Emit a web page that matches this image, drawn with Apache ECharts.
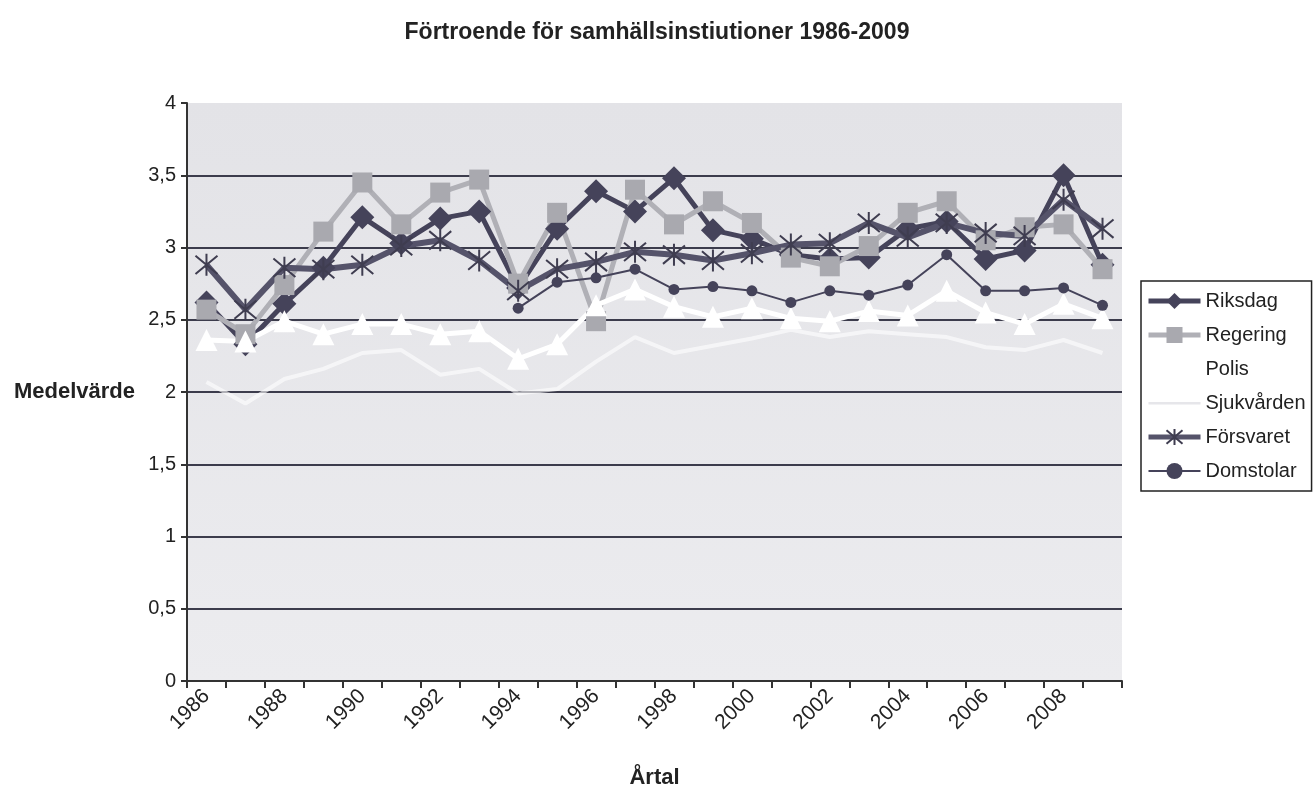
<!DOCTYPE html>
<html>
<head>
<meta charset="utf-8">
<script src="https://cdn.jsdelivr.net/npm/echarts@6/dist/echarts.min.js"></script>
<style>
  html, body { margin: 0; padding: 0; background: #fff; }
  #chart { width: 1314px; height: 788px; }
</style>
</head>
<body>
<div id="chart"></div>
<script>
const years = ["1986", "1987", "1988", "1989", "1990", "1991", "1992", "1993", "1994", "1995", "1996", "1997",
  "1998", "1999", "2000", "2001", "2002", "2003", "2004", "2005", "2006", "2007", "2008", "2009"];

const riksdag = [2.62, 2.33, 2.61, 2.86, 3.21, 3.03, 3.20, 3.25, 2.72, 3.13, 3.39, 3.25,
  3.48, 3.12, 3.06, 2.95, 2.92, 2.93, 3.13, 3.18, 2.92, 2.98, 3.50, 2.88];
const regering = [2.57, 2.40, 2.74, 3.11, 3.45, 3.16, 3.38, 3.47, 2.75, 3.24, 2.49, 3.40,
  3.16, 3.32, 3.17, 2.93, 2.87, 3.01, 3.24, 3.32, 3.05, 3.14, 3.16, 2.85];
const polis = [2.36, 2.35, 2.49, 2.40, 2.47, 2.47, 2.40, 2.42, 2.23, 2.33, 2.60, 2.71,
  2.59, 2.52, 2.58, 2.51, 2.49, 2.56, 2.53, 2.70, 2.55, 2.47, 2.61, 2.51];
const sjukvarden = [2.07, 1.92, 2.09, 2.16, 2.27, 2.29, 2.12, 2.16, 1.99, 2.02, 2.21, 2.38,
  2.27, 2.32, 2.37, 2.43, 2.38, 2.42, 2.40, 2.38, 2.31, 2.29, 2.36, 2.27];
const forsvaret = [2.88, 2.57, 2.86, 2.85, 2.88, 3.01, 3.05, 2.91, 2.70, 2.85, 2.90, 2.97,
  2.95, 2.91, 2.96, 3.02, 3.03, 3.17, 3.07, 3.17, 3.10, 3.08, 3.33, 3.13];
const domstolar = [null, null, null, null, null, null, null, null, 2.58, 2.76, 2.79, 2.85,
  2.71, 2.73, 2.70, 2.62, 2.70, 2.67, 2.74, 2.95, 2.70, 2.70, 2.72, 2.60];

const font = "'Liberation Sans', Arial, sans-serif";
const dark = "#45435a";
// asterisk: X plus vertical stroke
const asterisk = "path://M0,0L20,20M20,0L0,20M10,-2L10,22";
// plain thin line for the legend (zero-area points keep the box 52x20)
const thinLine = "path://M0,0L0.01,0M0,9L52,9L52,11.5L0,11.5ZM0,20L0.01,20";

const chart = echarts.init(document.getElementById("chart"));

chart.setOption({
  animation: false,
  backgroundColor: "#fff",
  textStyle: { fontFamily: font },
  title: {
    text: "Förtroende för samhällsinstiutioner 1986-2009",
    left: "center",
    top: 16,
    textStyle: { fontFamily: font, fontSize: 23, fontWeight: "bold", color: "#222" }
  },
  grid: {
    left: 187, right: 192, top: 103, bottom: 107,
    outerBoundsMode: "none",
    containLabel: false,
    show: true,
    borderWidth: 0,
    backgroundColor: new echarts.graphic.LinearGradient(0, 0, 0, 1, [
      { offset: 0, color: "#e3e3e7" },
      { offset: 1, color: "#ececef" }
    ])
  },
  legend: {
    orient: "vertical",
    left: 1141,
    top: 281,
    padding: [10, 6, 10, 5],
    itemGap: 14,
    itemWidth: 52,
    itemHeight: 20,
    borderColor: "#222",
    borderWidth: 1.5,
    backgroundColor: "#fff",
    textStyle: { fontFamily: font, fontSize: 20, color: "#222", padding: [0, 0, 0, 0] },
    data: [
      { name: "Riksdag", lineStyle: { width: 5 } },
      { name: "Regering", lineStyle: { width: 5 } },
      { name: "Polis", lineStyle: { width: 5 } },
      { name: "Sjukvården", icon: thinLine, itemStyle: { color: "#e6e6ea" } },
      { name: "Försvaret", lineStyle: { width: 5 } },
      { name: "Domstolar", lineStyle: { width: 2 } }
    ]
  },
  xAxis: {
    type: "category",
    data: years,
    boundaryGap: true,
    name: "Årtal",
    nameLocation: "middle",
    nameGap: 86,
    nameTextStyle: { fontFamily: font, fontSize: 22, fontWeight: "bold", color: "#222" },
    axisLine: { lineStyle: { color: "#333", width: 2 } },
    axisTick: { show: true, interval: 0, length: 7, lineStyle: { color: "#333", width: 2 } },
    axisLabel: { interval: 1, rotate: 45, margin: 12, fontSize: 21, color: "#222", fontFamily: font },
    splitLine: { show: false }
  },
  yAxis: {
    type: "value",
    min: 0,
    max: 4,
    interval: 0.5,
    name: "Medelvärde",
    nameLocation: "middle",
    nameRotate: 0,
    nameGap: 52,
    nameTextStyle: { fontFamily: font, fontSize: 22, fontWeight: "bold", color: "#222" },
    axisLine: { show: true, lineStyle: { color: "#333", width: 2 } },
    axisTick: { show: true, length: 6, lineStyle: { color: "#333", width: 2 } },
    axisLabel: {
      margin: 11, fontSize: 20, color: "#222", fontFamily: font,
      formatter: v => String(v).replace(".", ",")
    },
    splitLine: { show: true, showMaxLine: false, lineStyle: { color: "#3c3c4c", width: 2 } }
  },
  series: [
    {
      name: "Riksdag", type: "line", data: riksdag,
      symbol: "diamond", symbolSize: 24,
      lineStyle: { color: dark, width: 5 },
      itemStyle: { color: dark }
    },
    {
      name: "Regering", type: "line", data: regering,
      symbol: "rect", symbolSize: 20,
      lineStyle: { color: "#b0b0b6", width: 5 },
      itemStyle: { color: "#a9a9af" }
    },
    {
      name: "Polis", type: "line", data: polis,
      symbol: "triangle", symbolSize: 22,
      lineStyle: { color: "#ffffff", width: 5 },
      itemStyle: { color: "#ffffff" }
    },
    {
      name: "Sjukvården", type: "line", data: sjukvarden,
      symbol: "none",
      lineStyle: { color: "rgba(255,255,255,0.6)", width: 4 },
      itemStyle: { color: "#f4f4f6" }
    },
    {
      name: "Försvaret", type: "line", data: forsvaret,
      symbol: asterisk, symbolSize: 22,
      lineStyle: { color: "#55536a", width: 6 },
      itemStyle: { color: "#3f3d50", borderColor: "#3f3d50", borderWidth: 2 }
    },
    {
      name: "Domstolar", type: "line", data: domstolar,
      symbol: "circle", symbolSize: 11,
      lineStyle: { color: dark, width: 2 },
      itemStyle: { color: dark }
    }
  ]
});
</script>
</body>
</html>
